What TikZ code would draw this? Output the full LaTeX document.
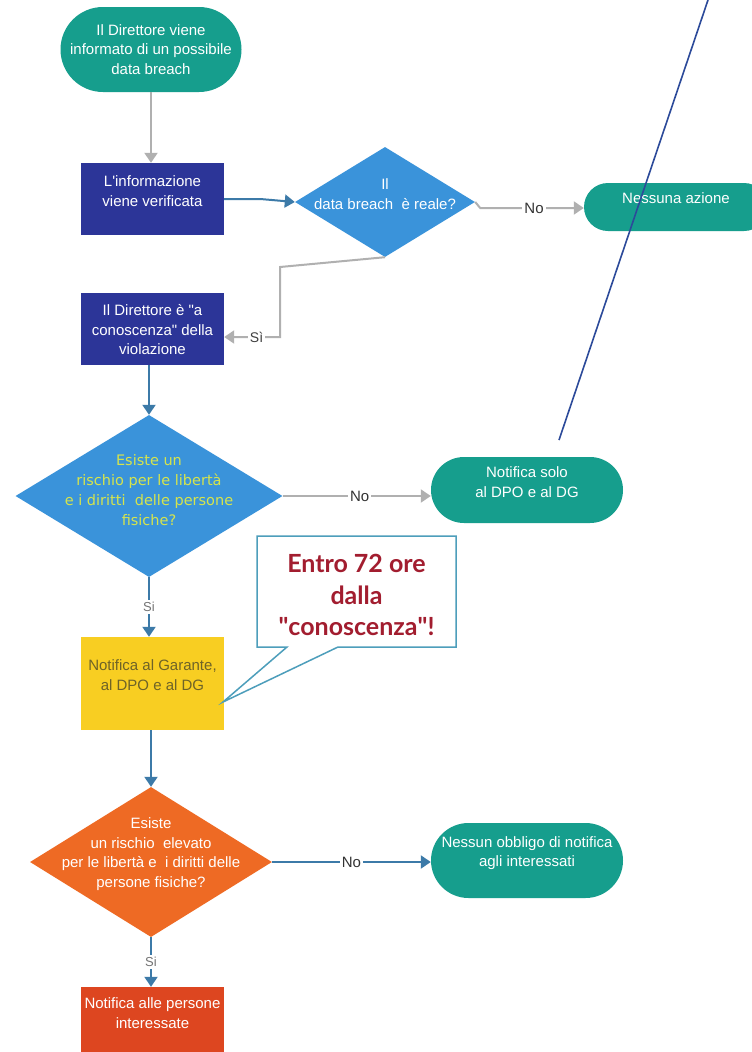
\documentclass[tikz,border=0pt]{standalone}
\usepackage{fontspec}
\setmainfont{Liberation Sans}
\newfontfamily\dvfont{DejaVu Sans}
\newfontfamily\latofont{Lato}
\usetikzlibrary{shapes.misc,shapes.geometric,arrows.meta}
\definecolor{tealc}{HTML}{169E8D}
\definecolor{navyc}{HTML}{2C3598}
\definecolor{dbluec}{HTML}{3A93DA}
\definecolor{orangec}{HTML}{EE6A24}
\definecolor{redc}{HTML}{DD4620}
\definecolor{yellowc}{HTML}{F8CE22}
\definecolor{grayc}{HTML}{B0B0B0}
\definecolor{bluec}{HTML}{3C7AA8}
\definecolor{callc}{HTML}{4D9EBB}
\definecolor{calltext}{HTML}{A21D2F}
\definecolor{annotc}{HTML}{2C4A9A}
\definecolor{limec}{HTML}{D6E44C}
\definecolor{olivec}{HTML}{6E6328}
\begin{document}
\begin{tikzpicture}[x=1pt,y=-1pt,
  term/.style={rounded rectangle, fill=tealc, draw=none, inner sep=0pt},
  proc/.style={rectangle, fill=navyc, draw=none, inner sep=0pt, minimum width=143pt, minimum height=72pt},
  dec/.style={diamond, fill=dbluec, draw=none, inner sep=0pt},
  txt/.style={text=white, align=center, inner sep=0pt, font=\fontsize{15}{19.5}\selectfont},
  lab/.style={fill=white, inner sep=2pt, text=black!80, font=\fontsize{15}{18}\selectfont},
  labs/.style={fill=white, inner sep=2pt, text=black!55, font=\fontsize{13}{16}\selectfont},
  grayarrow/.style={draw=grayc, line width=2pt, -{Triangle[width=13pt,length=10pt]}},
  bluearrow/.style={draw=bluec, line width=2pt, -{Triangle[width=13pt,length=10pt]}},
  annot/.style={draw=annotc, line width=1.6pt}
]
\useasboundingbox (0,0) rectangle (752,1052);
\clip (0,0) rectangle (752,1052);
\fill[white] (0,0) rectangle (752,1052);

% nodes
\node[term, minimum width=181pt, minimum height=85pt] (start) at (151,49.5) {};
\node[txt] (tstart) at (start.center) {Il Direttore viene\\informato di un possibile\\data breach};

\node[proc] (verif) at (152.5,199) {};
\node[txt] (tverif) at (152.5,191) {L\textquotesingle informazione\\viene verificata};

\node[dec, minimum width=180pt, minimum height=110pt] (real) at (385,202) {};
\node[txt] (treal) at (385,194) {Il\\data breach\ \ è reale?};

\node[term, minimum width=184pt, minimum height=48pt] (nessuna) at (676,207) {};
\node[txt] (tnessuna) at (676,198) {Nessuna azione};

\node[proc] (conosc) at (152.5,329) {};
\node[txt] (tconosc) at (152.5,330) {Il Direttore è \textquotedbl a\\conoscenza\textquotedbl\ della\\violazione};

\node[dec, minimum width=267pt, minimum height=162pt] (rischio) at (149,496) {};
\node[txt, text=limec, font=\dvfont\fontsize{14.5}{20}\selectfont] (trischio) at (149,490)
  {Esiste un\\rischio per le libertà\\e i diritti\ \ delle persone\\fisiche?};

\node[term, minimum width=192pt, minimum height=66pt] (solo) at (527,490) {};
\node[txt] (tsolo) at (527,482) {Notifica solo\\al DPO e al DG};

\node[proc, fill=yellowc, minimum height=93pt] (garante) at (152.5,683.5) {};
\node[txt, text=olivec] (tgarante) at (152.5,675) {Notifica al Garante,\\al DPO e al DG};

\node[dec, fill=orangec, minimum width=242pt, minimum height=150pt] (elevato) at (151,862) {};
\node[txt] (televato) at (151,854) {Esiste\\un rischio\ \ elevato\\per le libertà e\ \ i diritti delle\\persone fisiche?};

\node[term, minimum width=192pt, minimum height=75pt] (obbligo) at (527,860.5) {};
\node[txt] (tobbligo) at (527,853) {Nessun obbligo di notifica\\agli interessati};

\node[proc, fill=redc, minimum height=80pt] (persone) at (152.5,1027) {};
\node[txt] (tpersone) at (152.5,1013) {Notifica alle persone\\interessate};

% callout
\coordinate (c1) at (257,536);
\coordinate (c2) at (456,536);
\coordinate (c3) at (456,647);
\coordinate (c4) at (338,647);
\coordinate (ctip) at (223,702);
\coordinate (c5) at (287,647);
\coordinate (c6) at (257,647);
\draw[callc, fill=white, line width=1.5pt, line join=miter] (c1) -- (c2) -- (c3) -- (c4) -- (ctip) -- (c5) -- (c6) -- cycle;
\node[text=calltext, align=center, inner sep=0pt, font=\latofont\bfseries\fontsize{25}{31.5}\selectfont] (callout) at (356.5,595)
  {Entro 72 ore\\dalla\\\textquotedbl conoscenza\textquotedbl !};

% connectors
\draw[grayarrow] (start.south) -- (start.south |- verif.north);
\draw[bluearrow] (verif.east) -- ++(36,0) -- (real.west);
\draw[grayarrow] (real.east) -- ++(5,6) coordinate (n1) -- node[lab, pos=0.52]{No} (n1 -| nessuna.west);
\draw[grayarrow] (real.south) -- (280,267) -- (280,337) -- node[labs, text=black!75, font=\fontsize{14}{16}\selectfont, pos=0.42]{Sì} (conosc.east |- 0,337);
\draw[bluearrow] (rischio.north |- conosc.south) -- (rischio.north);
\draw[grayarrow] (rischio.east) -- node[lab, pos=0.52]{No} (rischio.east -| solo.west);
\draw[bluearrow] (rischio.south) -- node[labs]{Si} (rischio.south |- garante.north);
\draw[bluearrow] (elevato.north |- garante.south) -- (elevato.north);
\draw[bluearrow] (elevato.east) -- node[lab, pos=0.5]{No} (elevato.east -| obbligo.west);
\draw[bluearrow] (elevato.south) -- node[labs]{Si} (elevato.south |- persone.north);

% free-hand annotation stroke
\coordinate (a1) at (708,0);
\coordinate (a2) at (559,440);
\draw[annot] (a1) -- (a2);
\end{tikzpicture}
\end{document}
